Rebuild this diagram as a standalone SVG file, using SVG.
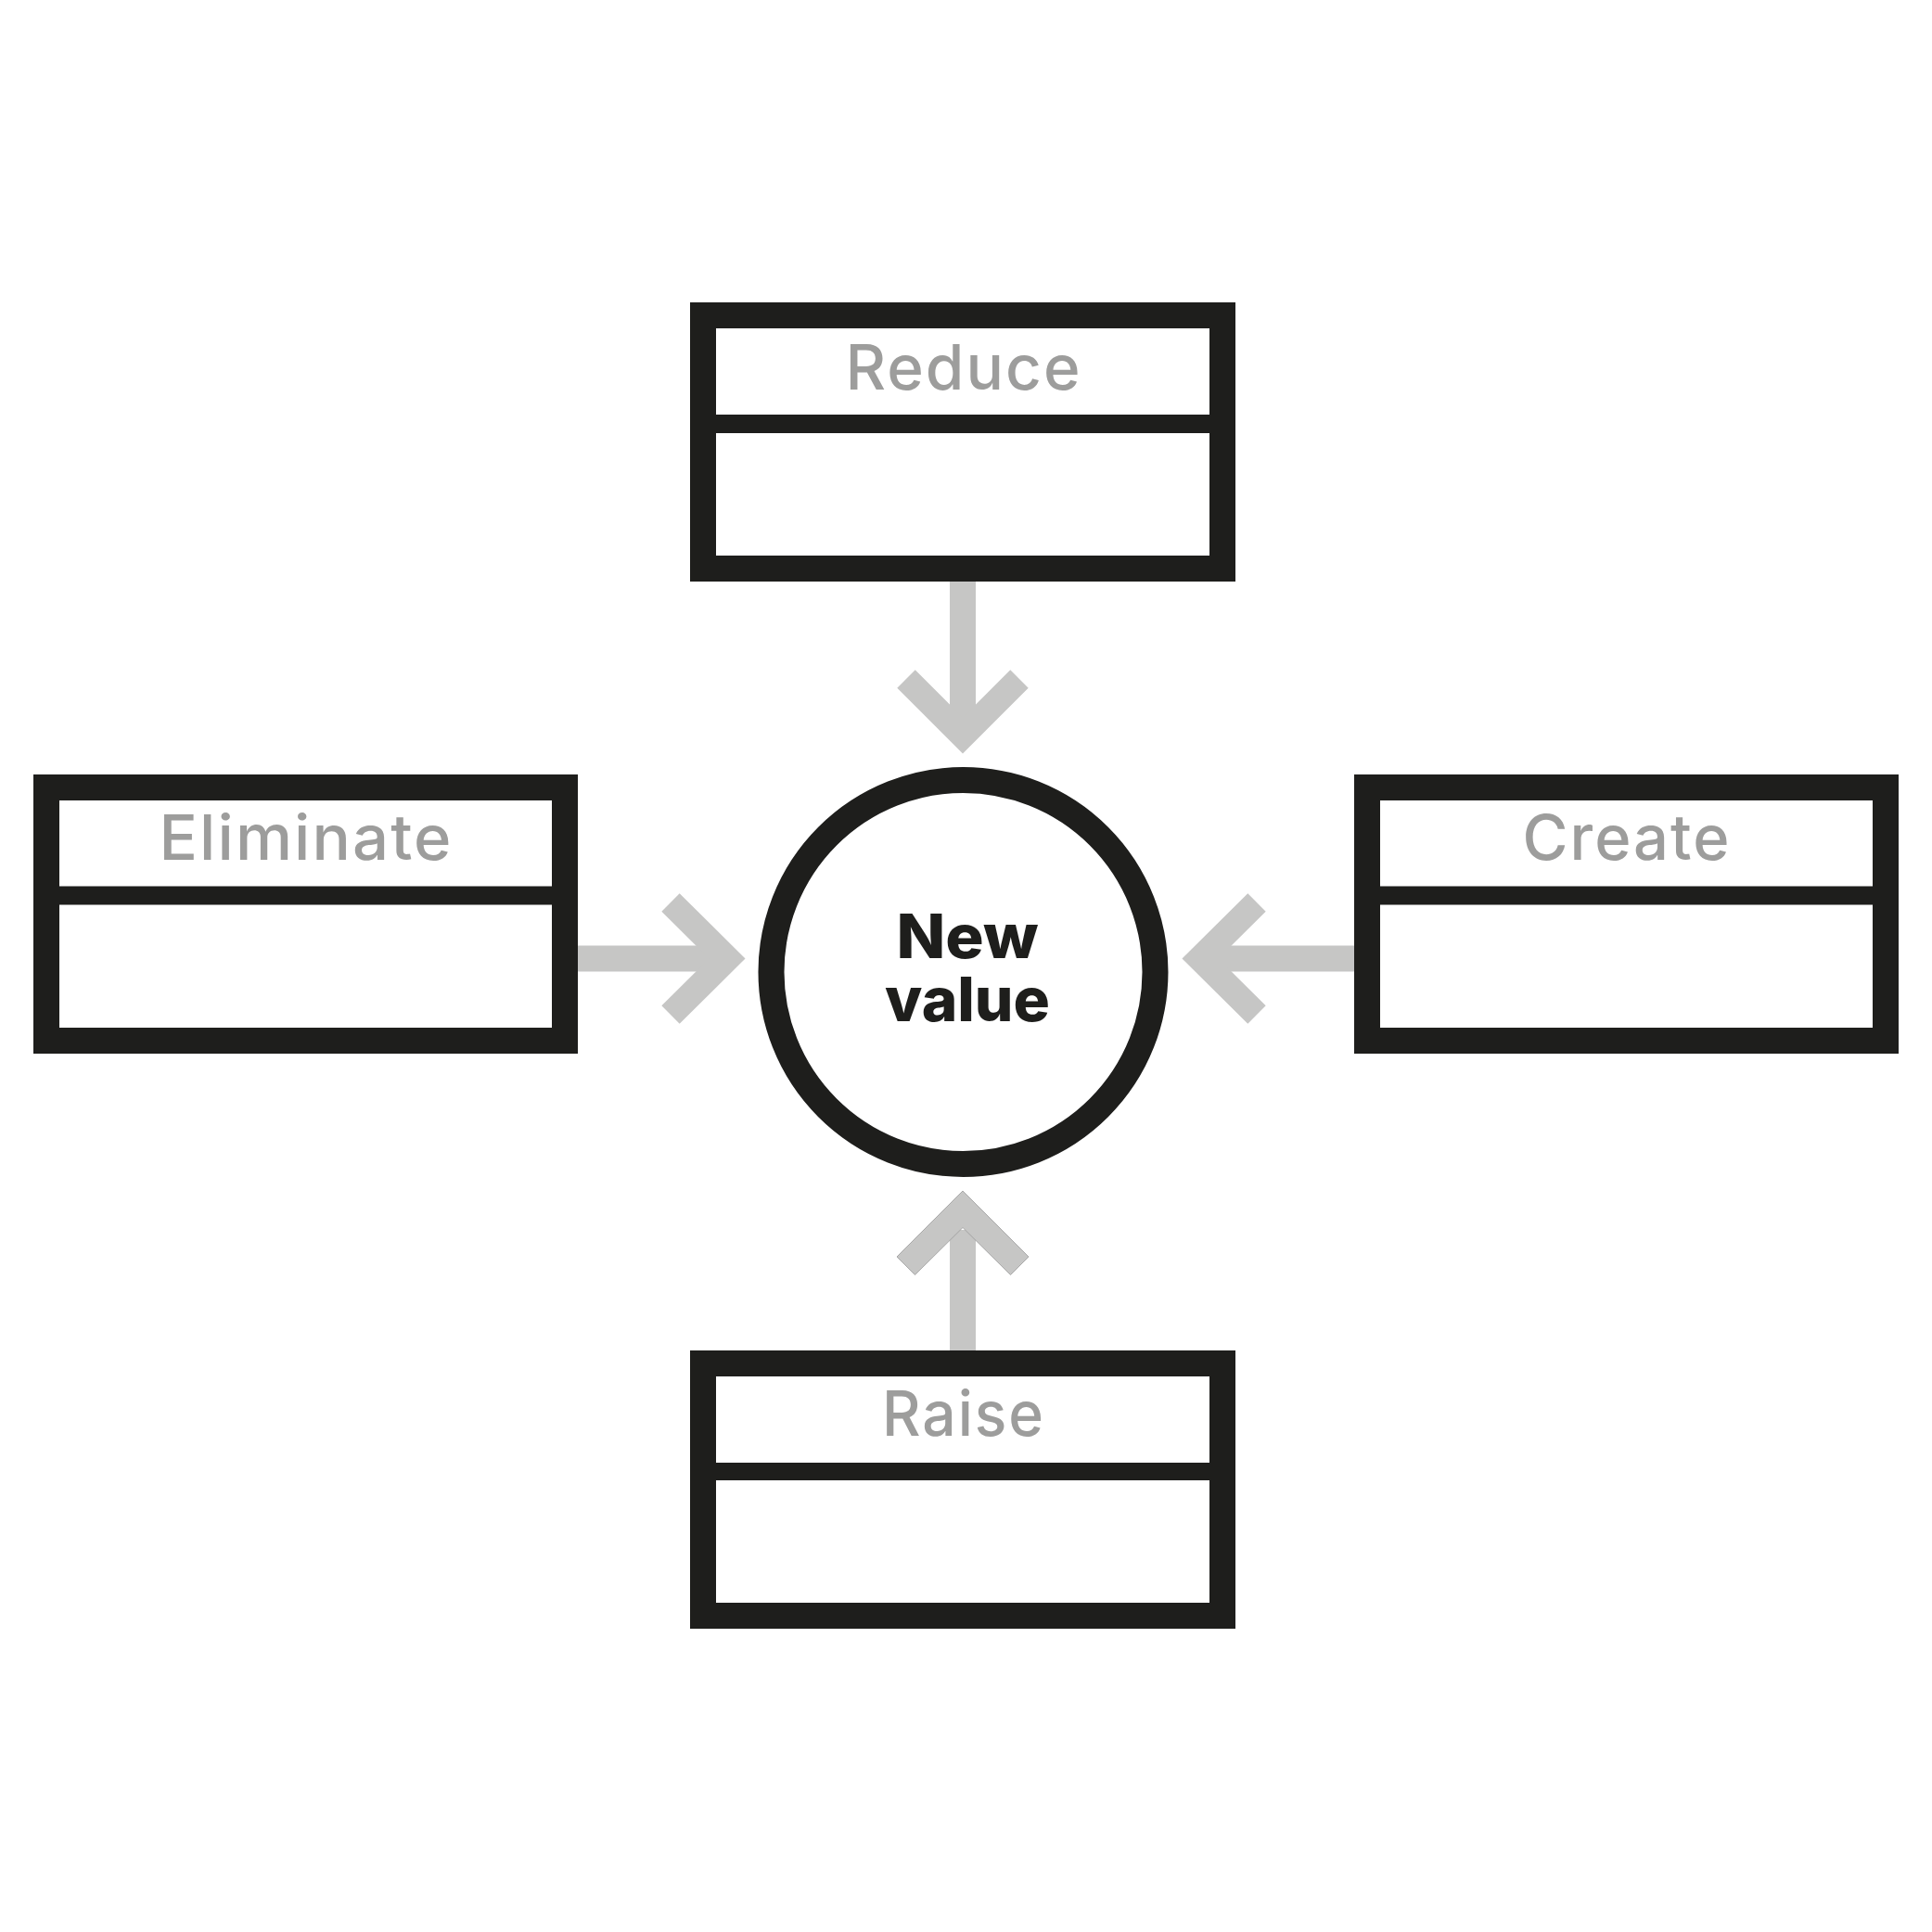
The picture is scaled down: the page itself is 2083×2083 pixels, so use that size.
<svg xmlns="http://www.w3.org/2000/svg" width="2083" height="2083" viewBox="0 0 2083 2083">
  <style>
    .box { fill: #ffffff; stroke: #1e1e1c; stroke-width: 28; }
    .div { fill: #1e1e1c; }
    .lbl { font-family: Inter, "Liberation Sans", sans-serif; font-size: 67px; font-weight: 500; fill: #9d9d9c; text-anchor: middle; letter-spacing: 2px; }
    .core { font-family: Inter, "Liberation Sans", sans-serif; font-size: 66px; font-weight: 800; fill: #1e1e1c; text-anchor: middle; }
    .shaft { stroke: #c6c6c5; stroke-width: 28; fill: none; }
    .head { stroke: #c6c6c5; stroke-width: 27.5; fill: none; stroke-linejoin: miter; stroke-linecap: butt; }
  </style>
  <rect width="2083" height="2083" fill="#ffffff"/>

  <g id="connectors">
    <line class="shaft" x1="1038" y1="627" x2="1038" y2="776"/>
    <polyline class="head" points="977,732 1038,793 1099,732"/>

    <line class="shaft" x1="623" y1="1033.5" x2="786" y2="1033.5"/>
    <polyline class="head" points="723,973 784,1033.5 723,1094"/>

    <line class="shaft" x1="1460" y1="1033.5" x2="1292" y2="1033.5"/>
    <polyline class="head" points="1355,973 1294,1033.5 1355,1094"/>

    <line class="shaft" x1="1038" y1="1456" x2="1038" y2="1326"/>
    <polygon points="1038,1284 1109,1355 1089.5,1374.5 1038,1323.5 986.5,1374.5 967,1355" fill="#c6c6c5" stroke="#9a9a9a" stroke-width="0.8"/>
  </g>

  <g id="reduce">
    <rect class="box" x="758" y="340" width="560" height="273"/>
    <rect class="div" x="758" y="447" width="560" height="20"/>
    <text class="lbl" x="1039" y="420" textLength="255" lengthAdjust="spacingAndGlyphs">Reduce</text>
  </g>

  <g id="eliminate">
    <rect class="box" x="50" y="849" width="559" height="273"/>
    <rect class="div" x="50" y="955.5" width="559" height="20"/>
    <text class="lbl" x="330" y="927" textLength="317" lengthAdjust="spacingAndGlyphs">Eliminate</text>
  </g>

  <g id="create">
    <rect class="box" x="1474" y="849" width="559" height="273"/>
    <rect class="div" x="1474" y="955.5" width="559" height="20"/>
    <text class="lbl" x="1754" y="927" textLength="225" lengthAdjust="spacingAndGlyphs">Create</text>
  </g>

  <g id="raise">
    <rect class="box" x="758" y="1470" width="560" height="272"/>
    <rect class="div" x="758" y="1577" width="560" height="19"/>
    <text class="lbl" x="1039" y="1548" textLength="176" lengthAdjust="spacingAndGlyphs">Raise</text>
  </g>

  <g id="new-value">
    <circle cx="1038.5" cy="1048" r="207" fill="#ffffff" stroke="#1e1e1c" stroke-width="28"/>
    <text class="core" x="1043" y="1033" textLength="153" lengthAdjust="spacingAndGlyphs">New</text>
    <text class="core" x="1043" y="1101" textLength="178" lengthAdjust="spacingAndGlyphs">value</text>
  </g>
</svg>
